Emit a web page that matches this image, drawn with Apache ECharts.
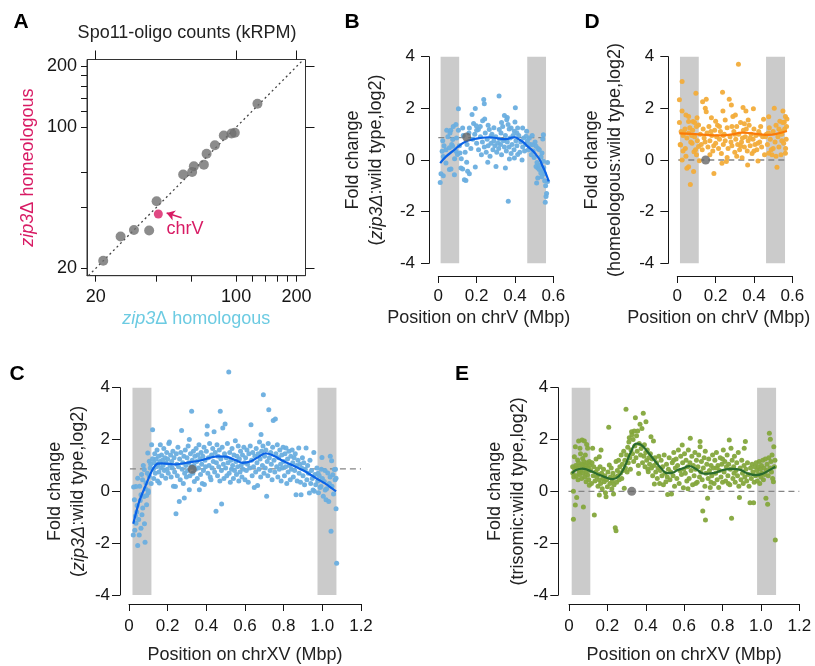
<!DOCTYPE html>
<html><head><meta charset="utf-8">
<script src="https://cdn.jsdelivr.net/npm/echarts@6/dist/echarts.min.js"></script>
<style>html,body{margin:0;padding:0;background:#fff}#c{width:815px;height:666px}</style>
</head><body><div id="c"></div>
<script>
const FONT = '"Liberation Sans", Arial, Helvetica, sans-serif';

// ---------- Panel A: Spo11-oligo counts (kRPM) ----------
const aHomologous  = [21.8, 26.6, 31.0, 36.9, 40.2, 54.5, 60.4, 61.6, 69.1, 71.3, 78.4, 86.8, 94.9, 98.5, 127.7];
const aHomeologous = [21.8, 28.8, 31.0, 30.8, 43.0, 58.3, 60.1, 64.1, 65.3, 73.9, 81.5, 91.0, 93.1, 93.9, 130.7];
const chrVHomologous = [41.0];
const chrVHomeologous = [37.2];
const aTickValues = [20, 40, 60, 100, 120, 140, 160, 180, 200];
const aLabelValues = [20, 100, 200];

// ---------- Panel B: chrV, zip3Δ : wild type ----------
const bPoints = [
[0.01,-0.87],[0.014,-0.53],[0.026,-0.61],[0.023,0.75],[0.026,0.14],[0.02,0.34],[0.04,0.40],[0.044,1.15],[0.065,1.15],[0.061,1.05],
[0.075,0.79],[0.078,1.30],[0.092,1.37],[0.105,1.98],[0.105,1.15],[0.058,-0.37],[0.066,-0.35],[0.04,-0.12],[0.058,0.47],[0.075,0.53],
[0.092,0.34],[0.1,0.21],[0.084,-0.57],[0.113,0.27],[0.127,1.24],[0.136,-0.76],[0.144,-0.79],[0.162,-0.53],[0.153,-0.44],[0.127,-0.35],
[0.118,-0.31],[0.148,-0.09],[0.162,1.24],[0.176,1.76],[0.184,1.41],[0.193,1.99],[0.198,1.33],[0.219,1.30],[0.209,1.18],[0.231,1.52],
[0.242,1.59],[0.237,2.34],[0.24,2.18],[0.317,2.48],[0.266,1.18],[0.275,0.92],[0.318,1.18],[0.327,1.05],[0.336,1.30],[0.345,1.72],
[0.36,1.65],[0.357,1.56],[0.364,1.37],[0.4,1.47],[0.402,2.02],[0.38,1.24],[0.397,1.11],[0.414,1.24],[0.44,1.24],[0.461,1.11],
[0.458,0.92],[0.475,0.85],[0.548,0.98],[0.545,0.81],[0.193,-0.27],[0.258,-0.09],[0.301,-0.25],[0.35,-0.31],[0.437,0.0],[0.371,0.04],
[0.397,0.08],[0.414,0.21],[0.51,-0.25],[0.519,-0.31],[0.527,-0.37],[0.545,-0.44],[0.553,-0.53],[0.513,-0.89],[0.519,-0.70],[0.562,-1.41],
[0.558,-1.64],[0.548,-0.05],[0.536,0.12],[0.541,0.27],[0.527,0.40],[0.51,0.53],[0.492,0.59],[0.365,-1.60],[0.57,-0.83],[0.13,0.95],
[0.15,0.6],[0.17,0.45],[0.18,0.8],[0.19,1.0],[0.2,0.65],[0.21,0.4],[0.22,0.9],[0.225,0.2],[0.23,0.7],[0.24,0.5],
[0.245,1.05],[0.25,0.3],[0.255,0.8],[0.26,0.55],[0.27,0.15],[0.275,0.65],[0.28,1.0],[0.285,0.4],[0.29,0.75],[0.295,0.55],
[0.3,0.9],[0.305,0.3],[0.31,0.65],[0.315,0.45],[0.32,0.8],[0.325,0.6],[0.33,0.2],[0.34,0.75],[0.345,0.5],[0.35,0.95],
[0.355,0.35],[0.36,0.7],[0.37,0.5],[0.375,0.85],[0.38,0.25],[0.385,0.6],[0.39,0.95],[0.395,0.4],[0.405,0.75],[0.41,0.55],
[0.42,0.95],[0.425,0.3],[0.43,0.7],[0.44,0.5],[0.445,0.85],[0.45,0.35],[0.455,0.6],[0.465,0.75],[0.47,0.4],[0.48,0.6],
[0.485,0.2],[0.49,0.95],[0.495,0.35],[0.5,0.1],[0.505,0.7],[0.515,-0.1],[0.52,0.45],[0.53,-0.2],[0.535,-0.5],[0.54,-0.65],
[0.55,-0.3],[0.555,-0.8],[0.56,-1.0],[0.565,-1.3],[0.57,-0.1],[0.14,0.3],[0.16,1.05],[0.03,0.55],[0.05,0.9],[0.07,0.6],
[0.085,0.05],[0.095,0.85],[0.11,0.55],[0.12,0.05],[0.2,1.15],[0.26,1.35],[0.29,1.25],[0.33,1.45],[0.37,1.2],[0.41,1.05]
];
const bCurve = [[0.01,-0.12],[0.04,0.13],[0.075,0.34],[0.11,0.56],[0.144,0.72],[0.18,0.8],[0.214,0.85],[0.266,0.88],[0.31,0.84],[0.336,0.81],[0.362,0.82],[0.38,0.86],[0.397,0.88],[0.423,0.79],[0.445,0.68],[0.466,0.53],[0.49,0.38],[0.51,0.21],[0.53,0.0],[0.545,-0.25],[0.56,-0.5],[0.576,-0.83]];
const bBands = [[0.012,0.109],[0.464,0.562]];
const bDash = [[0,0.87],[0.565,0.87]];
const bMarker = [[0.148,0.89]];

// ---------- Panel D: chrV, homeologous : wild type ----------
const dPoints = [
[0.011,2.33],[0.025,3.04],[0.025,1.9],[0.045,1.74],[0.059,1.68],[0.011,1.45],[0.059,1.49],[0.082,1.49],[0.097,2.58],[0.103,1.64],
[0.111,1.36],[0.02,1.1],[0.03,0.95],[0.04,1.2],[0.05,0.85],[0.06,1.05],[0.07,0.7],[0.08,1.15],[0.09,0.9],[0.1,1.3],
[0.015,0.6],[0.025,0.0],[0.042,0.45],[0.017,0.58],[0.05,-0.32],[0.059,-0.26],[0.068,-0.95],[0.077,0.65],[0.085,-0.45],[0.087,0.32],
[0.095,0.4],[0.105,0.75],[0.111,0.52],[0.035,1.05],[0.065,1.25],[0.03,0.35],[0.045,0.15],[0.075,0.95],[0.09,1.45],[0.1,0.2],
[0.115,-0.03],[0.12,1.0],[0.125,0.6],[0.132,2.26],[0.135,1.2],[0.14,0.85],[0.146,2.0],[0.151,2.35],[0.151,1.87],[0.155,1.05],
[0.16,0.5],[0.165,1.3],[0.17,0.75],[0.178,1.64],[0.18,0.95],[0.185,0.35],[0.191,-0.52],[0.195,1.15],[0.2,0.65],[0.205,0.9],
[0.21,1.35],[0.215,0.45],[0.22,0.8],[0.225,1.1],[0.23,0.25],[0.233,-0.13],[0.236,2.62],[0.238,1.9],[0.24,0.6],[0.245,1.0],
[0.25,0.75],[0.256,-0.06],[0.26,1.25],[0.265,0.45],[0.271,2.35],[0.275,0.9],[0.282,2.13],[0.285,0.55],[0.29,1.68],[0.295,1.1],
[0.3,0.3],[0.303,1.74],[0.305,0.8],[0.31,1.3],[0.315,0.6],[0.319,3.71],[0.32,1.0],[0.325,0.4],[0.33,1.45],[0.335,0.7],
[0.338,0.09],[0.343,2.03],[0.345,1.15],[0.35,0.5],[0.355,0.9],[0.358,1.9],[0.36,1.2],[0.365,0.35],[0.367,-0.19],[0.37,0.75],
[0.375,1.35],[0.38,0.55],[0.385,1.0],[0.39,0.25],[0.395,0.8],[0.397,1.98],[0.4,1.2],[0.405,0.6],[0.41,0.95],[0.415,0.4],
[0.421,-0.04],[0.425,1.1],[0.43,0.7],[0.435,1.3],[0.44,0.5],[0.445,0.9],[0.45,1.58],[0.455,0.2],[0.13,0.4],[0.145,0.7],
[0.175,1.1],[0.19,0.55],[0.22,1.3],[0.25,1.55],[0.28,0.7],[0.31,0.15],[0.34,0.85],[0.37,1.55],[0.4,0.35],[0.43,1.0],
[0.17,0.2],[0.26,0.1],[0.3,1.0],[0.35,1.4],[0.2,1.5],[0.24,0.95],[0.285,1.3],[0.33,0.55],[0.38,0.85],[0.42,0.65],
[0.465,1.0],[0.47,0.6],[0.477,1.67],[0.477,0.26],[0.48,1.25],[0.485,0.8],[0.49,0.4],[0.494,0.2],[0.5,1.1],[0.506,2.0],
[0.51,0.7],[0.515,1.35],[0.52,-0.28],[0.525,0.9],[0.53,0.5],[0.535,1.5],[0.541,0.2],[0.545,1.0],[0.551,1.9],[0.555,0.65],
[0.558,1.46],[0.56,1.2],[0.564,1.68],[0.564,0.26],[0.568,0.8],[0.572,1.59],[0.57,1.3],[0.565,0.45],[0.55,1.45],[0.54,1.1],
[0.53,1.2],[0.5,0.45],[0.475,1.05],[0.46,0.9],[0.515,0.15],[0.545,0.75]
];
const dCurve = [[0.011,1.03],[0.077,1.01],[0.146,0.97],[0.216,0.95],[0.285,0.99],[0.338,1.06],[0.39,1.03],[0.433,0.99],[0.477,0.97],[0.529,1.03],[0.572,1.12]];
const dBands = [[0.014,0.112],[0.463,0.562]];
const dDash = [[-0.047,0],[0.573,0]];
const dMarker = [[0.148,0]];

// ---------- Panel C: chrXV, zip3Δ : wild type ----------
const cPoints = [
[0.022,-1.68],[0.045,-2.09],[0.083,-1.96],[0.036,-1.23],[0.062,-1.42],[0.05,-1.09],[0.071,-0.64],[0.028,-0.32],[0.091,-0.52],[0.062,-0.13],
[0.036,0.19],[0.088,0.32],[0.045,0.51],[0.024,0.17],[0.105,0.58],[0.079,0.84],[0.074,1.0],[0.097,1.48],[0.105,1.16],[0.091,-0.16],
[0.1,0.02],[0.067,-0.9],[0.053,-1.68],[0.04,-0.8],[0.03,-1.5],[0.058,-0.35],[0.085,0.1],[0.095,0.7],[0.11,0.9],[0.115,0.3],
[0.07,0.45],[0.055,0.2],[0.042,-0.55],[0.078,-0.2],[0.1,-0.05],[0.112,1.05],[0.065,0.65],[0.033,-0.95],[0.08,-1.25],[0.117,1.8],
[0.122,2.38],[0.122,1.26],[0.125,0.85],[0.128,0.5],[0.13,1.1],[0.133,1.45],[0.136,0.7],[0.14,1.25],[0.142,0.95],[0.145,1.6],
[0.148,0.4],[0.15,1.05],[0.153,1.35],[0.155,0.75],[0.157,0.32],[0.16,1.15],[0.162,1.8],[0.165,0.9],[0.168,1.4],[0.17,0.6],
[0.173,1.2],[0.176,1.0],[0.18,1.65],[0.183,0.8],[0.186,1.3],[0.19,0.51],[0.192,1.1],[0.195,1.5],[0.198,0.85],
[0.2,1.25],[0.203,0.7],[0.206,1.85],[0.209,1.9],[0.212,1.0],[0.215,1.4],[0.218,0.55],[0.221,1.15],[0.224,0.9],[0.227,1.55],
[0.23,0.2],[0.233,1.3],[0.236,0.75],[0.24,0.19],[0.243,-0.86],[0.245,1.45],[0.248,1.05],[0.25,0.6],[0.253,1.7],[0.256,0.95],
[0.26,-0.39],[0.262,1.25],[0.265,0.45],[0.268,1.5],[0.272,2.35],[0.275,0.85],[0.278,1.1],[0.281,0.3],[0.284,1.35],[0.286,-0.26],
[0.288,0.7],[0.291,1.6],[0.294,1.0],[0.297,0.55],
[0.3,1.3],[0.303,0.8],[0.306,1.75],[0.309,1.1],[0.312,2.0],[0.312,0.06],[0.315,0.6],[0.318,1.45],[0.321,0.95],[0.324,3.09],
[0.327,1.2],[0.33,0.7],[0.333,1.55],[0.336,1.0],[0.338,0.38],[0.341,1.35],[0.344,0.85],[0.347,1.65],[0.35,1.15],[0.353,0.5],
[0.356,1.4],[0.359,0.9],[0.362,1.8],[0.364,0.06],[0.367,1.25],[0.37,0.65],[0.373,1.5],[0.376,1.05],[0.379,0.3],[0.382,1.35],
[0.385,0.8],[0.388,1.7],[0.39,0.26],[0.393,1.2],[0.396,0.95],
[0.4,1.55],[0.403,2.2],[0.405,2.52],[0.408,0.7],[0.411,1.3],[0.414,1.0],[0.417,1.85],[0.42,0.55],[0.424,0.45],[0.427,1.4],
[0.43,0.9],[0.433,1.65],[0.436,1.15],[0.44,2.3],[0.443,0.75],[0.446,1.5],[0.45,-0.77],[0.452,1.1],[0.455,1.8],[0.458,0.6],
[0.461,1.35],[0.464,0.95],[0.467,1.6],[0.47,0.4],[0.472,3.09],[0.475,1.25],[0.478,0.8],[0.479,-0.49],[0.482,1.7],[0.485,2.44],
[0.488,1.05],[0.491,0.5],[0.494,1.45],[0.497,2.6],
[0.5,0.9],[0.503,1.3],[0.506,0.6],[0.509,1.85],[0.512,1.1],[0.516,4.61],[0.518,0.7],[0.521,1.5],[0.524,0.35],[0.527,1.2],
[0.53,0.85],[0.533,1.65],[0.536,1.0],[0.54,0.5],[0.543,1.4],[0.546,0.8],[0.55,1.95],[0.553,1.15],[0.556,0.65],[0.559,1.35],
[0.562,0.95],[0.565,1.75],[0.568,0.4],[0.571,1.25],[0.574,0.75],[0.577,1.55],[0.58,1.0],[0.584,0.55],[0.587,1.4],[0.59,0.85],
[0.594,1.7],[0.597,1.1],
[0.6,0.45],[0.603,1.3],[0.607,0.8],[0.61,1.6],[0.613,1.05],[0.617,0.35],[0.62,1.45],[0.624,0.9],[0.627,1.75],[0.631,2.57],
[0.634,1.2],[0.637,0.6],[0.64,1.5],[0.644,0.95],[0.648,0.15],[0.651,1.35],[0.655,0.75],[0.658,1.65],[0.662,1.1],[0.665,0.23],
[0.668,1.45],[0.672,0.85],[0.675,1.9],[0.678,1.25],[0.681,0.55],[0.683,2.19],[0.686,1.55],[0.69,1.0],[0.693,1.75],[0.695,3.73],
[0.698,0.7],
[0.701,1.35],[0.705,0.9],[0.708,1.6],[0.712,-0.19],[0.715,1.15],[0.718,0.6],[0.72,1.85],[0.723,3.15],[0.726,1.3],[0.73,0.8],
[0.733,1.5],[0.736,1.05],[0.74,0.45],[0.743,1.7],[0.746,2.73],[0.75,1.2],[0.754,0.75],[0.757,2.79],[0.76,1.45],[0.764,0.95],
[0.767,1.8],[0.77,0.55],[0.774,1.3],[0.777,0.85],[0.78,1.6],[0.784,1.05],[0.787,0.4],[0.79,1.4],[0.794,0.9],[0.797,1.7],
[0.8,1.15],[0.804,0.6],[0.807,1.45],[0.81,0.95],[0.812,1.67],[0.816,0.3],[0.82,1.25],[0.823,0.75],[0.827,1.55],[0.83,1.0],
[0.834,0.45],[0.837,1.35],[0.84,0.85],[0.844,1.6],[0.847,1.1],[0.85,0.55],[0.854,1.3],[0.857,0.8],[0.86,1.45],[0.864,-0.13],
[0.867,1.0],[0.87,0.4],[0.874,1.2],[0.878,1.67],[0.88,0.7],[0.884,1.05],[0.887,0.35],[0.89,-0.13],[0.893,0.9],[0.897,1.3],
[0.9,0.6],[0.904,1.1],[0.908,0.25],[0.912,0.85],[0.916,1.67],[0.92,0.45],[0.924,1.0],[0.928,0.7],[0.933,-0.06],[0.936,1.2],
[0.94,0.3],[0.944,0.8],[0.948,0.5],[0.952,0.05],[0.956,1.5],[0.959,0.0],[0.962,0.65],[0.966,0.25],
[0.972,0.9],[0.976,0.4],[0.98,-0.05],[0.984,0.6],[0.988,0.15],[0.993,0.19],[0.998,1.31],[1.0,0.5],[1.005,-0.19],[1.01,0.38],
[1.014,0.8],[1.019,-0.32],[1.022,0.1],[1.028,0.71],[1.033,-0.39],[1.036,0.3],[1.041,1.35],[1.045,-1.54],[1.048,1.18],[1.05,0.2],
[1.054,0.64],[1.058,-0.1],[1.062,0.84],[1.066,0.45],[1.071,0.51],[1.071,-0.67],[1.074,-2.77],[1.068,0.85],[1.04,0.55],[1.015,0.05],
[0.995,0.85],[0.978,0.7]
];
const cCurve = [[0.022,-1.25],[0.053,-0.39],[0.088,0.26],[0.122,0.84],[0.148,1.07],[0.174,1.08],[0.243,1.04],[0.312,1.12],[0.364,1.18],[0.416,1.29],[0.459,1.35],[0.502,1.34],[0.553,1.2],[0.588,1.1],[0.631,1.16],[0.674,1.35],[0.705,1.47],[0.743,1.39],[0.795,1.18],[0.864,0.94],[0.916,0.75],[0.967,0.51],[1.019,0.28],[1.071,0.0]];
const cBands = [[0.018,0.116],[0.975,1.073]];
const cDash = [[-0.047,0.87],[1.2,0.87]];
const cMarker = [[0.327,0.85]];

// ---------- Panel E: chrXV, trisomic : wild type ----------
const ePoints = [
[0.019,0.95],[0.023,0.0],[0.023,-1.08],[0.028,1.34],[0.033,1.72],[0.033,-0.53],[0.04,-0.24],[0.045,1.21],[0.05,1.94],[0.054,0.76],
[0.057,1.66],[0.068,1.98],[0.071,1.27],[0.075,-0.6],[0.08,1.94],[0.08,0.89],[0.089,0.37],[0.092,1.81],[0.097,1.66],[0.097,0.63],
[0.106,1.15],[0.106,0.24],[0.02,0.7],[0.025,0.55],[0.03,0.85],[0.035,1.0],[0.038,0.6],[0.042,0.9],[0.047,0.45],[0.05,1.1],
[0.055,0.65],[0.06,1.0],[0.063,0.8],[0.066,0.5],[0.07,1.05],[0.073,0.7],[0.077,1.15],[0.083,0.55],[0.086,1.0],[0.09,0.75],
[0.094,1.1],[0.1,0.9],[0.103,0.45],[0.108,1.0],[0.06,1.45],[0.085,1.4],
[0.113,0.8],[0.117,0.3],[0.12,1.1],[0.123,1.66],[0.126,0.6],[0.129,0.95],[0.132,-0.91],[0.135,0.4],[0.138,0.75],[0.141,1.25],
[0.145,0.55],[0.148,0.85],[0.151,0.2],[0.155,0.65],[0.158,1.34],[0.158,0.44],[0.158,-0.14],[0.162,0.95],[0.165,0.3],[0.167,1.6],
[0.17,0.7],[0.173,0.1],[0.176,0.5],[0.18,0.85],[0.184,0.37],[0.187,0.6],[0.19,-0.05],[0.193,-0.21],[0.196,0.45],[0.2,0.18],
[0.203,0.75],[0.207,2.47],[0.21,1.02],[0.213,0.3],[0.216,0.55],[0.22,0.9],[0.223,0.1],[0.226,0.4],[0.229,0.7],[0.232,-0.1],
[0.235,0.25],[0.238,0.55],[0.241,-1.4],[0.245,-1.52],[0.245,1.15],[0.248,0.35],[0.252,0.8],[0.255,0.6],[0.258,1.2],[0.262,0.45],
[0.265,0.95],[0.268,0.7],[0.272,1.4],[0.275,0.5],[0.278,1.05],[0.282,0.8],[0.285,1.55],[0.288,0.12],[0.291,1.2],[0.294,0.9],
[0.297,3.17],
[0.3,1.4],[0.303,0.75],[0.306,1.7],[0.309,1.1],[0.312,1.9],[0.314,2.07],[0.317,1.3],[0.32,0.85],[0.323,1.6],[0.326,2.3],
[0.328,2.18],[0.331,1.45],[0.334,2.0],[0.337,1.15],[0.34,2.33],[0.343,1.75],[0.346,2.84],[0.349,1.3],[0.352,2.15],[0.355,1.55],
[0.358,2.33],[0.361,1.0],[0.363,0.69],[0.366,1.85],[0.37,2.59],[0.373,1.4],[0.376,1.65],[0.38,2.43],[0.383,1.1],[0.387,3.01],
[0.39,1.35],[0.393,1.8],[0.396,0.95],[0.4,1.5],[0.401,2.69],[0.405,1.2],[0.408,1.6],[0.411,0.85],[0.413,0.76],[0.416,1.3],
[0.42,1.05],[0.424,1.45],[0.427,2.11],[0.43,0.9],[0.433,1.25],[0.436,0.6],[0.44,1.94],[0.443,1.0],[0.445,0.28],[0.448,1.3],
[0.452,0.75],[0.456,1.1],[0.46,0.5],[0.464,0.9],[0.468,1.35],[0.472,0.3],[0.476,0.8],[0.48,1.2],[0.484,0.6],[0.488,0.95],
[0.492,0.25],[0.496,1.4],[0.5,0.7],[0.505,0.37],[0.508,1.05],[0.512,0.55],[0.514,-0.12],[0.518,0.85],[0.522,1.3],[0.526,0.45],
[0.53,0.75],[0.534,-0.1],[0.538,1.1],[0.542,0.6],[0.546,1.5],[0.55,0.2],[0.554,0.9],[0.558,1.25],[0.562,0.5],[0.566,1.0],
[0.57,1.6],[0.574,0.3],[0.578,0.8],[0.582,1.35],[0.586,0.65],[0.59,1.79],[0.592,1.1],[0.596,0.14],[0.598,0.85],[0.545,1.2],
[0.602,1.45],[0.606,0.7],[0.61,1.2],[0.614,0.4],[0.618,0.95],[0.622,1.6],[0.626,0.5],[0.63,1.1],[0.632,2.05],[0.636,0.8],
[0.64,1.35],[0.644,0.25],[0.648,1.0],[0.652,0.6],[0.656,1.5],[0.66,0.85],[0.664,1.2],[0.668,0.35],[0.672,0.95],[0.676,1.4],
[0.68,0.55],[0.683,1.92],[0.683,1.72],[0.687,0.75],[0.69,1.15],[0.694,0.45],[0.697,-0.76],[0.7,0.9],[0.704,1.3],[0.708,0.2],
[0.711,-1.11],[0.714,0.7],[0.718,1.05],[0.722,-0.27],[0.725,0.5],[0.728,1.25],[0.732,0.8],[0.736,0.15],[0.74,1.0],[0.744,0.6],
[0.748,1.4],[0.66,0.3],[0.71,1.55],[0.74,0.35],[0.62,0.1],
[0.752,0.9],[0.756,0.3],[0.76,1.2],[0.764,0.7],[0.768,1.5],[0.772,0.45],[0.776,1.0],[0.78,0.15],[0.784,0.8],[0.788,1.3],
[0.792,0.55],[0.796,1.05],[0.8,0.35],[0.804,1.6],[0.808,0.75],[0.812,1.15],[0.816,0.4],[0.82,0.95],[0.824,1.4],[0.828,0.6],
[0.832,1.05],[0.835,1.98],[0.838,0.25],[0.841,0.85],[0.844,1.66],[0.847,-1.04],[0.85,1.2],[0.854,0.5],[0.858,0.95],[0.862,1.35],
[0.866,0.35],[0.87,0.8],[0.874,1.1],[0.878,0.6],[0.882,1.5],[0.885,0.2],[0.888,-0.24],[0.892,0.9],[0.896,0.45],[0.8,1.25],
[0.77,0.9],[0.86,0.7],[0.83,0.3],
[0.9,1.2],[0.904,0.7],[0.908,0.3],[0.912,1.0],[0.913,1.66],[0.916,0.55],[0.919,1.92],[0.922,0.85],[0.926,0.4],[0.93,1.1],
[0.934,0.65],[0.938,0.2],[0.943,-0.44],[0.946,0.9],[0.95,0.5],[0.954,1.05],[0.958,0.75],[0.962,-0.44],[0.965,0.35],[0.968,0.95],
[0.972,0.6],[0.975,1.1],[0.978,0.8],[0.981,0.4],[0.985,0.95],[0.988,0.65],[0.991,1.15],[0.994,0.3],[0.997,0.85],[1.0,0.55],
[1.003,1.0],[1.006,0.7],[1.01,1.2],[1.013,0.45],[1.016,0.9],[1.02,0.65],[1.023,1.25],[1.026,-0.27],[1.029,0.8],[1.032,1.05],
[1.035,-0.5],[1.038,0.6],[1.041,1.3],[1.044,2.24],[1.047,0.9],[1.049,2.01],[1.052,1.15],[1.055,0.75],[1.058,1.4],[1.061,0.5],
[1.065,0.37],[1.067,1.72],[1.07,0.95],[1.073,1.2],[1.075,-1.88]
];
const eCurve = [[0.016,0.69],[0.036,0.82],[0.068,0.88],[0.097,0.83],[0.141,0.69],[0.184,0.56],[0.228,0.47],[0.259,0.58],[0.288,0.92],[0.323,1.53],[0.353,1.84],[0.375,1.8],[0.41,1.52],[0.445,1.2],[0.479,0.9],[0.514,0.7],[0.54,0.72],[0.566,0.82],[0.592,0.88],[0.627,0.97],[0.662,0.86],[0.705,0.68],[0.749,0.7],[0.801,0.82],[0.853,0.87],[0.896,0.82],[0.931,0.69],[0.974,0.63],[1.009,0.68],[1.044,0.82],[1.075,0.95]];
const eBands = [[0.014,0.111],[0.98,1.079]];
const eDash = [[-0.055,0],[1.2,0]];
const eMarker = [[0.327,0]];

// ---------- styling ----------
const INK = '#161616';
const PINK = '#d81b64';
const CYAN = '#6ccbe2';
const BAND = '#cbcbcb';
const TICK_FS = 17, NAME_FS = 18;

const fmtPos = v => (v === 0 ? '0' : v.toFixed(1));

function lineX(gridIndex, max, offset, name, gap, padRight, labelMargin) {
  return {
    gridIndex, type: 'value', min: 0, max, interval: 0.2, offset,
    axisLine: { show: true, onZero: false, lineStyle: { color: INK, width: 1 } },
    axisTick: { show: true, length: 7, lineStyle: { color: INK, width: 1 } },
    axisLabel: { margin: labelMargin, fontSize: TICK_FS, color: INK, fontFamily: FONT, formatter: fmtPos },
    splitLine: { show: false },
    name, nameLocation: 'middle', nameGap: gap,
    nameTextStyle: { fontSize: NAME_FS, color: '#222', fontFamily: FONT, padding: [0, padRight, 0, 0] }
  };
}
function foldY(gridIndex, offset, name, gap, labelMargin) {
  return {
    gridIndex, type: 'value', min: -4, max: 4, interval: 2, offset,
    axisLine: { show: true, onZero: false, lineStyle: { color: INK, width: 1 } },
    axisTick: { show: true, length: 8, lineStyle: { color: INK, width: 1 } },
    axisLabel: { margin: labelMargin, fontSize: TICK_FS, color: INK, fontFamily: FONT },
    splitLine: { show: false },
    name, nameLocation: 'middle', nameGap: gap,
    nameTextStyle: {
      fontSize: NAME_FS, color: '#222', fontFamily: FONT, lineHeight: 23, align: 'center',
      rich: {
        n: { fontSize: NAME_FS, color: '#222', fontFamily: FONT, lineHeight: 23 },
        i: { fontSize: NAME_FS, color: '#222', fontFamily: FONT, fontStyle: 'italic', lineHeight: 23 }
      }
    }
  };
}
function logAxis(gridIndex, min, max, isMajor, extra) {
  const base = {
    gridIndex, type: 'log', logBase: 10, min, max,
    axisLine: { show: !isMajor, onZero: false, lineStyle: { color: '#333', width: 1 } },
    axisTick: { show: true, length: isMajor ? 9 : 6, customValues: isMajor ? aLabelValues : aTickValues, lineStyle: { color: INK, width: 1 } },
    axisLabel: isMajor ? { show: false } : { show: true, customValues: aLabelValues, fontSize: TICK_FS + 1, color: INK, fontFamily: FONT },
    splitLine: { show: false }, minorTick: { show: false }
  };
  return Object.assign(base, extra || {});
}

function panel(xi, yi, pts, curve, bands, dash, marker, ptColor, lnColor, smooth) {
  return [
    { type: 'line', xAxisIndex: xi, yAxisIndex: yi, data: [], symbol: 'none', silent: true, z: 0, zlevel: 0,
      markArea: { silent: true, z: 0, itemStyle: { color: BAND, opacity: 1 }, data: bands.map(b => [{ xAxis: b[0] }, { xAxis: b[1] }]) } },
    { type: 'line', xAxisIndex: xi, yAxisIndex: yi, data: dash, symbol: 'none', clip: false, silent: true, z: 2,
      lineStyle: { color: '#858585', width: 1.3, type: [6, 4] } },
    { type: 'scatter', xAxisIndex: xi, yAxisIndex: yi, data: pts, symbolSize: 5, clip: false, z: 3,
      itemStyle: { color: ptColor, opacity: 0.95 } },
    { type: 'line', xAxisIndex: xi, yAxisIndex: yi, data: curve, symbol: 'none', smooth, z: 4,
      lineStyle: { color: lnColor, width: 2.2 } },
    { type: 'scatter', xAxisIndex: xi, yAxisIndex: yi, data: marker, symbolSize: 9, z: 5,
      itemStyle: { color: '#666666' } }
  ];
}

const aPoints = aHomologous.map((v, i) => [v, aHomeologous[i]]);
const chrVPoint = chrVHomologous.map((v, i) => [v, chrVHomeologous[i]]);

const option = {
  backgroundColor: '#ffffff',
  animation: false,
  textStyle: { fontFamily: FONT },
  grid: [
    { left: 87, top: 59.5, width: 218.5, height: 216.2, show: true, borderColor: '#333', borderWidth: 1, backgroundColor: 'transparent', outerBoundsMode: 'none' },
    { left: 438.3, top: 56.7, width: 115, height: 206.6, outerBoundsMode: 'none' },
    { left: 677.3, top: 56.7, width: 115, height: 206.6, outerBoundsMode: 'none' },
    { left: 129, top: 387.7, width: 232, height: 207.3, outerBoundsMode: 'none' },
    { left: 569, top: 387.7, width: 230.3, height: 207.3, outerBoundsMode: 'none' }
  ],
  xAxis: [
    logAxis(0, 18.1, 221.5, false, {
      axisLabel: { show: true, customValues: aLabelValues, fontSize: TICK_FS + 1, color: INK, fontFamily: FONT, margin: 12 },
      name: '{i|zip3}{n|\u0394 homologous}', nameLocation: 'middle', nameGap: 34,
      nameTextStyle: { fontSize: NAME_FS, color: CYAN, fontFamily: FONT,
        rich: { i: { fontStyle: 'italic', fontSize: NAME_FS, color: CYAN, fontFamily: FONT }, n: { fontSize: NAME_FS, color: CYAN, fontFamily: FONT } } }
    }),
    logAxis(0, 18.1, 221.5, true),
    lineX(1, 0.6, 12.7, 'Position on chrV (Mbp)', 33, 34, 12),
    lineX(2, 0.6, 12.7, 'Position on chrV (Mbp)', 33, 32, 12),
    lineX(3, 1.2, 9, 'Position on chrXV (Mbp)', 42, 0, 14),
    lineX(4, 1.2, 9, 'Position on chrXV (Mbp)', 42, 0, 14)
  ],
  yAxis: [
    logAxis(0, 18.4, 216.6, false, {
      axisLabel: { show: true, customValues: aLabelValues, fontSize: TICK_FS + 1, color: INK, fontFamily: FONT, margin: 10 },
      name: '{i|zip3}{n|\u0394 homeologous}', nameLocation: 'middle', nameGap: 50,
      nameTextStyle: { fontSize: NAME_FS, color: PINK, fontFamily: FONT,
        rich: { i: { fontStyle: 'italic', fontSize: NAME_FS, color: PINK, fontFamily: FONT }, n: { fontSize: NAME_FS, color: PINK, fontFamily: FONT } } }
    }),
    logAxis(0, 18.4, 216.6, true),
    foldY(1, 9.3, '{n|Fold change}\n{n|(}{i|zip3\u0394}{n|:wild type,log2)}', 41, 14),
    foldY(2, 9, '{n|Fold change}\n{n|(homeologous:wild type,log2)}', 42, 14),
    foldY(3, 9, '{n|Fold change}\n{n|(}{i|zip3\u0394}{n|:wild type,log2)}', 30, 10),
    foldY(4, 10.7, '{n|Fold change}\n{n|(trisomic:wild type,log2)}', 29, 10)
  ],
  series: [
    { type: 'line', xAxisIndex: 0, yAxisIndex: 0, data: [[18.4, 18.4], [216.6, 216.6]], symbol: 'none', silent: true, z: 1,
      lineStyle: { color: '#444', width: 1.3, type: [2, 3] } },
    { type: 'scatter', xAxisIndex: 0, yAxisIndex: 0, data: aPoints, symbolSize: 10, z: 3,
      itemStyle: { color: '#6f6f6f' } },
    { type: 'scatter', xAxisIndex: 0, yAxisIndex: 0, data: chrVPoint, symbolSize: 9, z: 4,
      itemStyle: { color: PINK },
      markPoint: { silent: true, symbol: 'circle', symbolSize: 1, itemStyle: { color: 'rgba(0,0,0,0)' },
        label: { show: true, position: 'inside', formatter: 'chrV', color: PINK, fontSize: NAME_FS, fontFamily: FONT },
        data: [{ coord: [55.6, 31.5] }] },
      markLine: { silent: true, symbol: ['none', 'arrow'], symbolSize: 8, label: { show: false },
        lineStyle: { color: PINK, width: 1.5, type: 'solid', curveness: -0.6 },
        data: [[{ coord: [53.5, 35.6] }, { coord: [45.1, 37.6] }]] } },
    ...panel(2, 2, bPoints, bCurve, bBands, bDash, bMarker, '#6aaedf', '#0a62e6', true),
    ...panel(3, 3, dPoints, dCurve, dBands, dDash, dMarker, '#f2ac3a', '#fb7a06', true),
    ...panel(4, 4, cPoints, cCurve, cBands, cDash, cMarker, '#6aaedf', '#0a62e6', 0.25),
    ...panel(5, 5, ePoints, eCurve, eBands, eDash, eMarker, '#84a63c', '#2a6b2e', true)
  ],
  graphic: [
    { type: 'text', x: 187, y: 33, silent: true, style: { text: 'Spo11-oligo counts (kRPM)', font: NAME_FS + 'px ' + FONT, fill: '#222', textAlign: 'center', textVerticalAlign: 'middle', align: 'center', verticalAlign: 'middle' } },
    { type: 'text', x: 21, y: 22, silent: true, style: { text: 'A', font: 'bold 21px ' + FONT, fill: '#000', textAlign: 'center', textVerticalAlign: 'middle', align: 'center', verticalAlign: 'middle' } },
    { type: 'text', x: 352, y: 22, silent: true, style: { text: 'B', font: 'bold 21px ' + FONT, fill: '#000', textAlign: 'center', textVerticalAlign: 'middle', align: 'center', verticalAlign: 'middle' } },
    { type: 'text', x: 592, y: 22, silent: true, style: { text: 'D', font: 'bold 21px ' + FONT, fill: '#000', textAlign: 'center', textVerticalAlign: 'middle', align: 'center', verticalAlign: 'middle' } },
    { type: 'text', x: 17, y: 374, silent: true, style: { text: 'C', font: 'bold 21px ' + FONT, fill: '#000', textAlign: 'center', textVerticalAlign: 'middle', align: 'center', verticalAlign: 'middle' } },
    { type: 'text', x: 462, y: 374, silent: true, style: { text: 'E', font: 'bold 21px ' + FONT, fill: '#000', textAlign: 'center', textVerticalAlign: 'middle', align: 'center', verticalAlign: 'middle' } }
  ]
};

const chart = echarts.init(document.getElementById('c'), null, { renderer: 'canvas' });
chart.setOption(option);
</script></body></html>
